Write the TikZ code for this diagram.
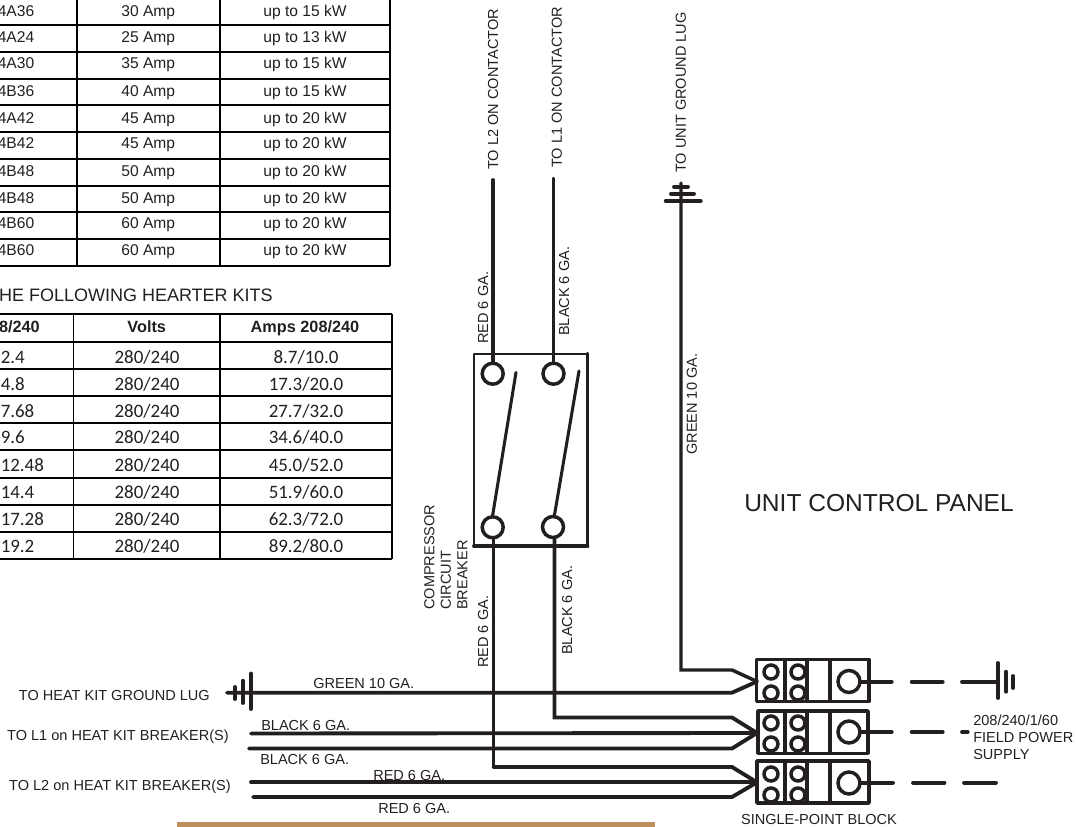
\documentclass[tikz,border=0pt]{standalone}
\usepackage{fontspec, tkz-euclide}
\setmainfont{Liberation Sans}
\newfontfamily\cellfont{Carlito}
\definecolor{wireink}{HTML}{231F20}
\definecolor{photobrown}{HTML}{BC8F5C}
\tikzset{
    wire/.style={line width=2.9pt, color=wireink},
    thinwire/.style={line width=2.3pt, color=wireink},
    gridline/.style={line width=1.25pt, color=black},
    lbltext/.style={font=\fontsize{10.9pt}{12.6pt}\selectfont, text=wireink, inner sep=0pt},
    lbl/.style={lbltext, text height=7.8pt, text depth=0pt},
    vlbl/.style={lbl, rotate=90},
    cell/.style={font=\fontsize{11.7pt}{14pt}\selectfont, text=wireink, inner sep=0pt, text height=8.4pt, text depth=0pt},
    kitcell/.style={font=\fontsize{14.2pt}{16pt}\cellfont, text=wireink, inner sep=0pt, text height=9pt, text depth=0pt, yshift=-0.7pt},
    headcell/.style={font=\fontsize{12.2pt}{14pt}\bfseries, text=wireink, inner sep=0pt, text height=8.7pt, text depth=0pt}
}
\begin{document}
\begin{tikzpicture}[x=0.75pt, y=-0.75pt]
    \useasboundingbox (0,0) rectangle (1076,827);
    % breaker table
    \foreach \ly in {25,51.7,78.7,105.3,132,159,185.7,212.3,239,265.7}
        \draw[gridline] (0,\ly) -- (390,\ly);
    \foreach \lx in {77,220,390}
        \draw[gridline] (\lx,0) -- (\lx,265.7);
    \foreach \ry/\model/\amp/\kw [count=\i] in {11/4A36/30 Amp/up to 15 kW, 36.7/4A24/25 Amp/up to 13 kW,
        63.3/4A30/35 Amp/up to 15 kW, 90.7/4B36/40 Amp/up to 15 kW, 117.7/4A42/45 Amp/up to 20 kW,
        143.3/4B42/45 Amp/up to 20 kW, 171/4B48/50 Amp/up to 20 kW, 197.7/4B48/50 Amp/up to 20 kW,
        223.3/4B60/60 Amp/up to 20 kW, 250/4B60/60 Amp/up to 20 kW}{
        \node[cell, anchor=east] (model\i) at (34.5,\ry) {\model};
        \node[cell] (amp\i) at (148.3,\ry) {\amp};
        \node[cell] (kw\i) at (305,\ry) {\kw};
    }
    % heater kit table
    \node[lbl, font=\fontsize{13.5pt}{15pt}\selectfont, text height=9.7pt, anchor=east] (kittitle) at (273,295) {HE FOLLOWING HEARTER KITS};
    \foreach \ly in {314.3,341.7,369,396,423.3,450,478.3,505,531.7,558.7}
        \draw[gridline] (0,\ly) -- (391.7,\ly);
    \foreach \lx in {73.5,220,391.7}
        \draw[gridline] (\lx,314.3) -- (\lx,558.7);
    \node[headcell, anchor=east] (kwhead) at (40,326.7) {8/240};
    \node[headcell] (volthead) at (146.7,326.7) {Volts};
    \node[headcell] (amphead) at (305,326.7) {Amps 208/240};
    \foreach \ry/\kwval/\ampval [count=\i] in {357/2.4/{8.7/10.0}, 384/4.8/{17.3/20.0}, 411/7.68/{27.7/32.0},
        437/9.6/{34.6/40.0}, 464.6/12.48/{45.0/52.0}, 492/14.4/{51.9/60.0}, 519/17.28/{62.3/72.0}, 546/19.2/{89.2/80.0}}{
        \node[kitcell, anchor=west] (kit\i) at (0.5,\ry) {\kwval};
        \node[kitcell] (volt\i) at (147,\ry) {280/240};
        \node[kitcell] (amps\i) at (306,\ry) {\ampval};
    }
    % breaker
    \tkzDefPoints{474/354/BA, 587.5/354/BB, 587.5/546/BC, 474/546/BD}
    \tkzDrawPolygon[thinwire, line width=2pt](BA,BB,BC,BD)
    \tkzDrawSegments[wire](BB,BC BC,BD)
    \tkzDefPoints{493/180/RT, 493/362.5/RU, 553.5/179/KT, 553.5/362.5/KU}
    \tkzDefPoints{493.5/538/RL, 493.5/767/RB, 554.5/538/KL, 554.5/717.5/KB}
    \tkzDrawSegments[wire](RT,RU KT,KU)
    \foreach \cx/\cy/\cname in {492.7/373.7/PA, 553.5/373.7/PB, 492.7/527.3/PC, 553/527/PD}{
        \draw[thinwire, line width=2.6pt] (\cx,\cy) circle (10.5);
        \coordinate (\cname) at (\cx,\cy);
    }
    \tkzDefPoints{492.7/515/BLA, 516/372.5/BLB, 554.5/515/BLC, 579/371/BLD}
    \tkzDrawSegments[thinwire](BLA,BLB BLC,BLD)
    % single point blocks
    \foreach \top/\bot/\lft/\rgt/\ca/\cb/\cc/\n in {659.5/701.5/756.7/869/672/693/681.5/one,
        711/753.3/758/868/723/744/732/two, 761/803/757/869/774/795/783/three}{
        \tkzDefPoints{\lft/\top/\n A, \rgt/\top/\n B, \rgt/\bot/\n C, \lft/\bot/\n D,
            785/\top/\n E, 785/\bot/\n F, 807/\top/\n G, 807/\bot/\n H, 830/\top/\n I, 830/\bot/\n J}
        \tkzDrawPolygon[thinwire, line width=2.6pt](\n A,\n B,\n C,\n D)
        \tkzDrawSegments[thinwire](\n E,\n F \n G,\n H \n I,\n J)
        \foreach \sx in {771,798}{
            \draw[thinwire, line width=2.6pt] (\sx,\ca) circle (7);
            \draw[thinwire, line width=2.6pt] (\sx,\cb) circle (7);
        }
        \draw[thinwire, line width=2.6pt] (849,\cc) circle (11);
    }
    % wires into blocks
    \tkzDefPoints{681/183/GT, 681/670/GC, 732/670/GD, 757/681.5/TA}
    \tkzDefPoints{227/692.7/GL, 732/692.7/GE}
    \tkzDrawPolySeg[wire, line width=2.6pt](GT,GC,GD,TA)
    \tkzDrawPolySeg[wire](GL,GE,TA)
    \tkzDefPoints{732/717.5/HD, 757/733/TB, 249/748.5/HB, 732/748.5/HE, 251/733.5/HC}
    \tkzDrawPolySeg[wire](RL,RB)
    \tkzDrawPolySeg[wire](KL,KB,HD,TB)
    \tkzDrawSegment[wire](HC,TB)
    \tkzDrawPolySeg[wire](HB,HE,TB)
    \tkzDefPoints{493.5/767/JA, 732/767/JD, 757/782.3/TC, 253/797/JB, 732/797/JE, 251/782.3/JC}
    \tkzDrawPolySeg[wire](JA,JD,TC)
    \tkzDrawSegment[wire](JC,TC)
    \tkzDrawPolySeg[wire](JB,JE,TC)
    % ground marks
    \tkzDefPoints{674/186.7/UA, 688/186.7/UB, 671/193.7/UC, 694/193.7/UD, 665.7/201/UE, 700.7/201/UF}
    \tkzDrawSegments[wire](UA,UB UC,UD UE,UF)
    \tkzDefPoints{235/687/LA, 235/699/LB, 243/680.7/LC, 243/703/LD, 251/673.5/LE, 251/709/LF}
    \tkzDrawSegments[wire](LA,LB LC,LD LE,LF)
    % supply side
    \foreach \ry/\xa/\xb/\xc/\xd/\xe/\xf/\n in {681.7/860/891.7/911.7/942.7/962/998/one,
        732/860/891.7/911.7/942.7/962/967.7/two, 782.7/860/893/913/944.5/964/996/three}{
        \tkzDefPoints{\xa/\ry/\n P, \xb/\ry/\n Q, \xc/\ry/\n R, \xd/\ry/\n S, \xe/\ry/\n T, \xf/\ry/\n U}
        \tkzDrawSegments[wire](\n P,\n Q \n R,\n S \n T,\n U)
    }
    \tkzDefPoints{998/663/EA, 998/698/EB, 1006/671.7/EC, 1006/691.7/ED, 1013/676/EE, 1013/688/EF}
    \tkzDrawSegments[wire](EA,EB EC,ED EE,EF)
    % wire labels
    \node[vlbl, anchor=west] (toltwo) at (493,170) {TO L2 ON CONTACTOR};
    \node[vlbl, anchor=west] (tolone) at (556.7,168) {TO L1 ON CONTACTOR};
    \node[vlbl, anchor=west] (tolug) at (680.7,173) {TO UNIT GROUND LUG};
    \node[vlbl, anchor=west] (redup) at (483,344) {RED 6 GA.};
    \node[vlbl, anchor=west] (blackup) at (564,336) {BLACK 6 GA.};
    \node[vlbl, anchor=west] (greenup) at (691.7,455) {GREEN 10 GA.};
    \node[vlbl, anchor=west] (reddown) at (483,668) {RED 6 GA.};
    \node[vlbl, anchor=west] (blackdown) at (567,655) {BLACK 6 GA.};
    \node[lbltext, rotate=90, font=\fontsize{10.9pt}{12.4pt}\selectfont, anchor=north west, align=left] (breakername) at (424,610) {COMPRESSOR\\CIRCUIT\\BREAKER};
    \node[lbl, anchor=west] (greenh) at (313,683) {GREEN 10 GA.};
    \node[lbl, anchor=west] (blackh) at (261,725) {BLACK 6 GA.};
    \node[lbl, anchor=west] (blackl) at (260,759) {BLACK 6 GA.};
    \node[lbl, anchor=west] (redh) at (373,775) {RED 6 GA.};
    \node[lbl, anchor=west] (redl) at (378,808) {RED 6 GA.};
    \node[lbl, anchor=east] (heatlug) at (210,695) {TO HEAT KIT GROUND LUG};
    \node[lbl, anchor=east] (heatlone) at (229,735) {TO L1 on HEAT KIT BREAKER(S)};
    \node[lbl, anchor=east] (heatltwo) at (231,785) {TO L2 on HEAT KIT BREAKER(S)};
    \node[lbl, font=\fontsize{18.4pt}{20pt}\selectfont, text height=13.2pt, anchor=west] (panel) at (744,503) {UNIT CONTROL PANEL};
    \node[lbltext, anchor=north west, align=left] (supply) at (973,715) {208/240/1/60\\FIELD POWER\\SUPPLY};
    \node[lbl] (blockname) at (819,819) {SINGLE-POINT BLOCK};
    % photo edge
    \fill[photobrown] (177,822) rectangle (655,827);
\end{tikzpicture}
\end{document}
